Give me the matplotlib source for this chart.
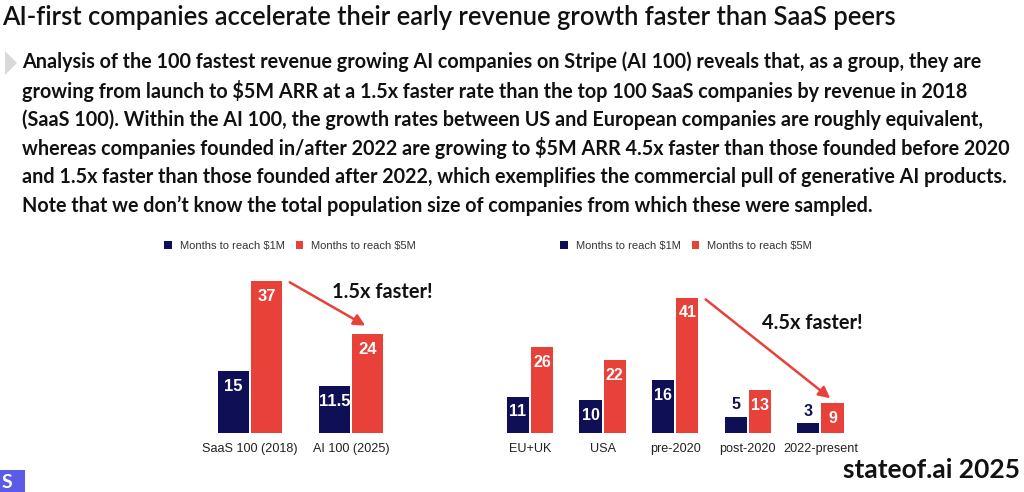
import matplotlib
matplotlib.use("Agg")
import matplotlib.pyplot as plt
from matplotlib.patches import Rectangle, Polygon, Patch

W, H = 1024, 492
DPI = 100

NAVY = "#0f0f55"
RED = "#e8413a"

title = "AI-first companies accelerate their early revenue growth faster than SaaS peers"
body_lines = [
    "Analysis of the 100 fastest revenue growing AI companies on Stripe (AI 100) reveals that, as a group, they are",
    "growing from launch to $5M ARR at a 1.5x faster rate than the top 100 SaaS companies by revenue in 2018",
    "(SaaS 100). Within the AI 100, the growth rates between US and European companies are roughly equivalent,",
    "whereas companies founded in/after 2022 are growing to $5M ARR 4.5x faster than those founded before 2020",
    "and 1.5x faster than those founded after 2022, which exemplifies the commercial pull of generative AI products.",
    "Note that we don\u2019t know the total population size of companies from which these were sampled.",
]

legend_labels = ["Months to reach $1M", "Months to reach $5M"]

left_cats = ["SaaS 100 (2018)", "AI 100 (2025)"]
left_1m = [15, 11.5]
left_5m = [37, 24]
left_1m_txt = ["15", "11.5"]
left_5m_txt = ["37", "24"]

right_cats = ["EU+UK", "USA", "pre-2020", "post-2020", "2022-present"]
right_1m = [11, 10, 16, 5, 3]
right_5m = [26, 22, 41, 13, 9]

fig = plt.figure(figsize=(W / DPI, H / DPI), dpi=DPI)
fig.patch.set_facecolor("white")


def px_axes(x0, y_bottom, w, h):
    return fig.add_axes([x0 / W, (H - y_bottom) / H, w / W, h / H])


# Title & body
fig.text(2 / W, 1 - 18 / H, title, fontsize=18.4, family="Lato", fontweight="semibold",
         color="#111111", va="center", ha="left")
for i, line in enumerate(body_lines):
    y = 62 + i * 28.8
    fig.text(22 / W, 1 - y / H, line, fontsize=14.2, family="Lato", fontweight="bold",
             color="#111111", va="center", ha="left")

# gray triangle marker
fig.patches.append(Polygon([(5 / W, 1 - 51 / H), (5 / W, 1 - 75 / H), (17 / W, 1 - 63 / H)],
                           closed=True, transform=fig.transFigure, facecolor="#d9d9d9",
                           edgecolor="none"))

# Logo bottom-left
fig.patches.append(Rectangle((0, 0), 25 / W, 22 / H, transform=fig.transFigure,
                             facecolor="#5b5be8", edgecolor="none"))
fig.text(7 / W, 9 / H, "S", fontsize=14, family="Lato", fontweight="bold", color="white",
         va="center", ha="center")

fig.text(1020 / W, 1 - 470 / H, "stateof.ai 2025", fontsize=19, family="Lato",
         fontweight="bold", color="#111111", va="center", ha="right")


def draw_group(ax, cats, v1, v5, t1, t5, off, bw, fs, small_thr):
    xs = list(range(len(cats)))
    b1 = ax.bar([x - off for x in xs], v1, width=bw, color=NAVY)
    b5 = ax.bar([x + off for x in xs], v5, width=bw, color=RED)
    for bars, txts, col in ((b1, t1, NAVY), (b5, t5, RED)):
        for b, t in zip(bars, txts):
            xc = b.get_x() + b.get_width() / 2
            h = b.get_height()
            if h < small_thr:
                ax.annotate(t, (xc, h), xytext=(0, 8.5), textcoords="offset points",
                            ha="center", va="center", color=col, fontsize=fs,
                            fontweight="bold", family="Liberation Sans")
            else:
                ax.annotate(t, (xc, h), xytext=(0, -11), textcoords="offset points",
                            ha="center", va="center", color="white", fontsize=fs,
                            fontweight="bold", family="Liberation Sans")
    ax.set_xticks(xs)
    ax.set_xticklabels(cats, fontsize=9.1, family="Liberation Sans", color="#222222")
    ax.tick_params(axis="x", length=0, pad=7)
    ax.set_yticks([])
    for s in ax.spines.values():
        s.set_visible(False)
    return b1, b5


# Left chart
axL = px_axes(250 - 0.6 * 101, 433, 2.2 * 101, 180)
axL.set_xlim(-0.6, 1.6)
axL.set_ylim(0, 180 / 4.11)
draw_group(axL, left_cats, left_1m, left_5m, left_1m_txt, left_5m_txt, 0.165, 0.31, 12, 6)
axL.annotate("", xy=(1.165, left_5m[1] + 1.8), xytext=(0.37, left_5m[0]),
             arrowprops=dict(arrowstyle="-|>", color=RED, lw=1.8, mutation_scale=17),
             annotation_clip=False)
fig.text(382 / W, 1 - 292 / H, "1.5x faster!", fontsize=14.4, family="Lato", fontweight="bold",
         color="#111111", ha="center", va="center")

# Right chart
axR = px_axes(530 - 0.6 * 72.6, 433, 5.2 * 72.6, 180)
axR.set_xlim(-0.6, 4.6)
axR.set_ylim(0, 180 / 3.3)
draw_group(axR, right_cats, right_1m, right_5m, [str(v) for v in right_1m],
           [str(v) for v in right_5m], 0.166, 0.305, 11.5, 6)
axR.annotate("", xy=(4.166, right_5m[4] + 1.0), xytext=(2.39, right_5m[2]),
             arrowprops=dict(arrowstyle="-|>", color=RED, lw=1.8, mutation_scale=17),
             annotation_clip=False)
fig.text(812 / W, 1 - 323 / H, "4.5x faster!", fontsize=14.4, family="Lato", fontweight="bold",
         color="#111111", ha="center", va="center")

# Legends
handles = [Patch(facecolor=NAVY, edgecolor="none"), Patch(facecolor=RED, edgecolor="none")]
for cx in (290, 686):
    fig.legend(handles, legend_labels, loc="center", bbox_to_anchor=(cx / W, 1 - 246 / H),
               bbox_transform=fig.transFigure, ncol=2, frameon=False,
               prop={"family": "Liberation Sans", "size": 8.0},
               handlelength=0.7, handleheight=0.7, handletextpad=0.7, columnspacing=1.0,
               labelcolor="#333333")

fig.savefig("out.png", dpi=DPI, facecolor="white")
